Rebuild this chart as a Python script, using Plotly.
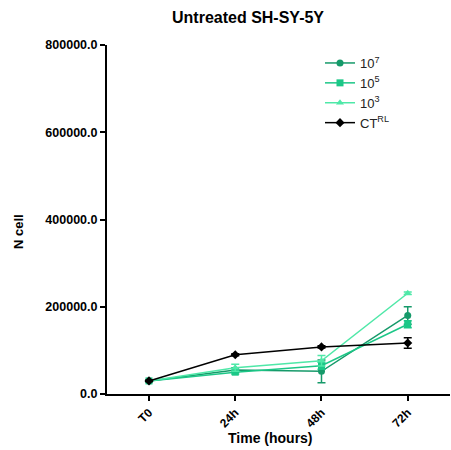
import plotly.graph_objects as go

categories = ["T0", "24h", "48h", "72h"]
series_names = ["10<sup>7</sup>", "10<sup>5</sup>", "10<sup>3</sup>", "CT<sup>RL</sup>"]
v_1e7 = [30000, 55000, 52000, 180000]
e_1e7 = [2000, 5000, 26000, 20000]
v_1e5 = [30000, 50000, 65000, 160000]
e_1e5 = [2000, 4000, 8000, 8000]
v_1e3 = [30000, 60000, 76000, 231000]
e_1e3 = [2000, 8000, 12000, 3000]
v_ct = [30000, 90000, 108000, 117000]
e_ct = [1500, 2500, 2500, 12000]

colors = ["#169a6a", "#1cc787", "#4fe8a8", "#000000"]
symbols = ["circle", "square", "triangle-up", "diamond"]
values = [v_1e7, v_1e5, v_1e3, v_ct]
errors = [e_1e7, e_1e5, e_1e3, e_ct]

W, H = 451, 450
L, R, T, B = 107, 1, 45, 56
pw = W - L - R
ph = H - T - B

fig = go.Figure()
xs = list(range(len(categories)))
for name, v, e, c, s in zip(series_names, values, errors, colors, symbols):
    fig.add_trace(go.Scatter(
        x=xs, y=v, name=name, mode="lines+markers",
        line=dict(color=c, width=1.5),
        marker=dict(symbol=s, size=7, color=c),
        error_y=dict(type="data", array=e, visible=True, color=c, thickness=1.5, width=4),
    ))

def px_x(p):
    return (p - L) / pw

def px_y(p):
    return 1 - (p - T) / ph

fig.update_layout(
    width=W, height=H,
    margin=dict(l=L, r=R, t=T, b=B),
    plot_bgcolor="white", paper_bgcolor="white",
    font=dict(family="Liberation Sans, Arial, sans-serif", color="black"),
    showlegend=True,
    legend=dict(x=px_x(320), y=px_y(48), xanchor="left", yanchor="top",
                font=dict(size=13, color="#222222"), bgcolor="rgba(0,0,0,0)", tracegroupgap=0),
    annotations=[
        dict(text="<b>Untreated SH-SY-5Y</b>", x=px_x(248), y=px_y(18), xref="paper", yref="paper",
             showarrow=False, font=dict(size=16), xanchor="center", yanchor="middle"),
        dict(text="<b>N cell</b>", x=px_x(18), y=px_y(232), xref="paper", yref="paper",
             showarrow=False, font=dict(size=13), textangle=-90, xanchor="center", yanchor="middle"),
        dict(text="<b>Time (hours)</b>", x=px_x(270), y=px_y(438), xref="paper", yref="paper",
             showarrow=False, font=dict(size=14), xanchor="center", yanchor="middle"),
    ],
)
fig.update_xaxes(
    range=[-0.487, 3.49], tickmode="array", tickvals=xs, ticktext=categories,
    tickangle=-45, showline=True, linecolor="black", linewidth=2,
    ticks="outside", ticklen=5, tickwidth=1.5, tickcolor="black",
    showgrid=False, zeroline=False, tickfont=dict(size=12, weight="bold"),
)
fig.update_yaxes(
    range=[0, 800000], tickvals=[0, 200000, 400000, 600000, 800000], tickformat=".1f",
    showline=True, linecolor="black", linewidth=2,
    ticks="outside", ticklen=5, tickwidth=1.5, tickcolor="black",
    showgrid=False, zeroline=False, tickfont=dict(size=12.5, weight="bold"),
)

fig.write_html("out.html")
